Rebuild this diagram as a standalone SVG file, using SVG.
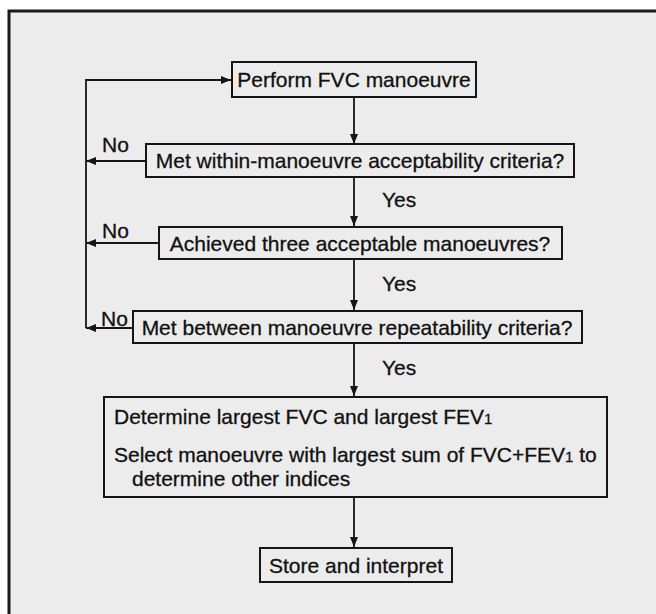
<svg xmlns="http://www.w3.org/2000/svg" width="656" height="614" viewBox="0 0 656 614">
<style>
.box{fill:none;stroke:#151515;stroke-width:2}
.t{font-family:"Liberation Sans",Arial,sans-serif;font-size:21px;fill:#111;stroke:#111;stroke-width:0.3}
.c{stroke:#151515;stroke-width:1.8;fill:none}
</style>
<defs>
<marker id="ah" viewBox="0 0 10 8" refX="10" refY="4" markerWidth="10" markerHeight="8" markerUnits="userSpaceOnUse" orient="auto">
<path d="M0,0 L10,4 L0,8 Z" fill="#151515"/>
</marker>
</defs>
<rect x="0" y="0" width="656" height="614" fill="#ffffff"/>
<rect x="8" y="10" width="660" height="620" fill="#ececec"/>
<path d="M9,614 V11 H656" fill="none" stroke="#1a1a1a" stroke-width="3"/>

<g id="connectors">
<path class="c" d="M354,97 V144" marker-end="url(#ah)"/>
<path class="c" d="M354,177 V226" marker-end="url(#ah)"/>
<path class="c" d="M354,259 V310" marker-end="url(#ah)"/>
<path class="c" d="M354,343 V396" marker-end="url(#ah)"/>
<path class="c" d="M354,497 V547" marker-end="url(#ah)"/>
<path class="c" d="M146,161 H86" marker-end="url(#ah)"/>
<path class="c" d="M159,243 H86" marker-end="url(#ah)"/>
<path class="c" d="M133,328 H86"/>
<path class="c" d="M86,328 V80 H231" marker-end="url(#ah)"/>
<path d="M96,324 L86,328 L96,332 Z" fill="#151515"/>
<text class="t" x="102" y="152">No</text>
<text class="t" x="102" y="238">No</text>
<text class="t" x="101" y="326">No</text>
<text class="t" x="382" y="207">Yes</text>
<text class="t" x="382" y="291">Yes</text>
<text class="t" x="382" y="375">Yes</text>
</g>

<g id="n1">
<rect class="box" x="232" y="62" width="244" height="35"/>
<text class="t" x="354" y="87" text-anchor="middle">Perform FVC manoeuvre</text>
</g>
<g id="n2">
<rect class="box" x="146" y="144" width="428" height="33"/>
<text class="t" x="360" y="168" text-anchor="middle">Met within-manoeuvre acceptability criteria?</text>
</g>
<g id="n3">
<rect class="box" x="159" y="227" width="403" height="32"/>
<text class="t" x="360" y="251" text-anchor="middle">Achieved three acceptable manoeuvres?</text>
</g>
<g id="n4">
<rect class="box" x="133" y="311" width="449" height="32"/>
<text class="t" x="357" y="335" text-anchor="middle">Met between manoeuvre repeatability criteria?</text>
</g>
<g id="n5">
<rect class="box" x="104" y="397" width="503" height="100"/>
<text class="t" x="114" y="424">Determine largest FVC and largest FEV<tspan font-size="15">1</tspan></text>
<text class="t" x="114" y="462">Select manoeuvre with largest sum of FVC+FEV<tspan font-size="15">1</tspan> to</text>
<text class="t" x="132" y="486">determine other indices</text>
</g>
<g id="n6">
<rect class="box" x="260" y="548" width="192" height="34"/>
<text class="t" x="356" y="573" text-anchor="middle">Store and interpret</text>
</g>
</svg>
